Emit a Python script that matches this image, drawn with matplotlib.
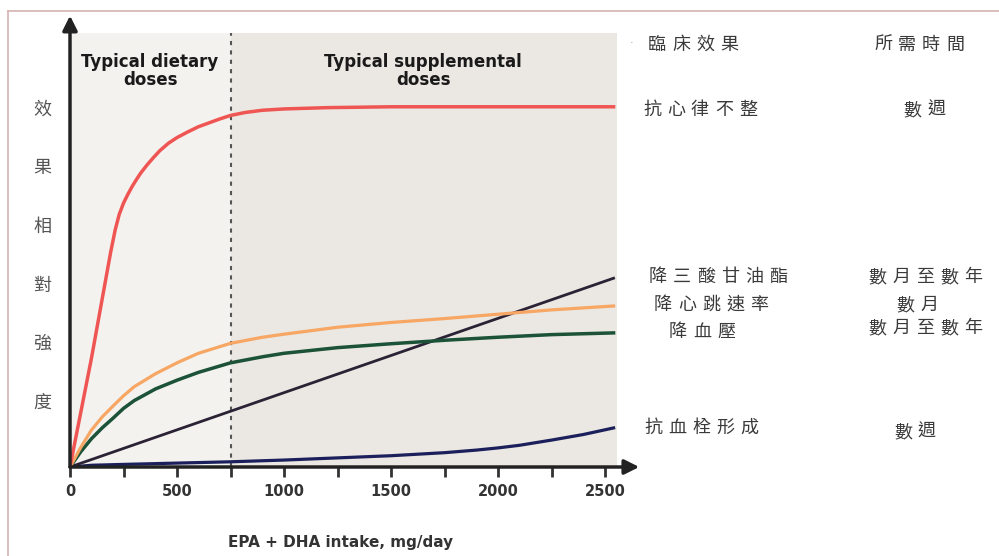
import matplotlib
matplotlib.use('Agg')
import matplotlib.pyplot as plt
from matplotlib.lines import Line2D

plt.rcParams['font.family'] = ['DejaVu Sans', 'Noto Sans CJK TC']

# dose in mg/day, effect in relative units (0-100)
red_x = [0, 100, 190, 211, 230, 250, 270, 290, 310, 330, 360, 390, 420, 460, 500, 550,
         600, 650, 700, 750, 820, 900, 1000, 1200, 1500, 2000, 2540]
red_y = [0, 25.0, 49.5, 54.6, 58.2, 60.8, 62.8, 64.6, 66.2, 67.7, 69.6, 71.3, 72.9, 74.6, 75.9, 77.2,
         78.4, 79.3, 80.2, 81.0, 81.7, 82.2, 82.5, 82.8, 83.0, 83.0, 83.0]

orange_x = [0, 50, 100, 150, 200, 250, 300, 400, 500, 600, 750, 900, 1000, 1250, 1500, 1750, 2000, 2250, 2540]
orange_y = [0, 4.5, 8.5, 11.5, 14.0, 16.4, 18.5, 21.5, 24.0, 26.2, 28.5, 29.9, 30.6, 32.2, 33.3, 34.2, 35.2, 36.2, 37.1]

green_x = [0, 50, 100, 150, 200, 250, 300, 400, 500, 600, 750, 900, 1000, 1250, 1500, 1750, 2000, 2250, 2540]
green_y = [0, 3.5, 6.5, 9.0, 11.2, 13.5, 15.3, 18.0, 20.0, 21.8, 24.0, 25.4, 26.2, 27.5, 28.4, 29.2, 29.9, 30.5, 30.9]

purple_x = [0, 2540]
purple_y = [0, 43.5]

navy_x = [0, 100, 250, 500, 750, 1000, 1250, 1500, 1750, 1900, 2000, 2100, 2250, 2400, 2540]
navy_y = [0, 0.4, 0.6, 0.9, 1.2, 1.6, 2.1, 2.6, 3.3, 3.9, 4.4, 5.0, 6.2, 7.5, 9.0]

ylabel_chars = ['效', '果', '相', '對', '強', '度']
effects = ['臨床效果', '抗心律不整', '降三酸甘油酯', '降心跳速率', '降血壓', '抗血栓形成']
times = ['所需時間', '數週', '數月至數年', '數月', '數月至數年', '數週']

W, H = 999, 556
fig = plt.figure(figsize=(W / 100, H / 100), dpi=100)
fig.patch.set_facecolor('white')

# thin rose frame round the picture
fig.add_artist(Line2D([8 / W, 1], [1 - 11 / H, 1 - 11 / H], color='#d6b4b4', lw=1.2))
fig.add_artist(Line2D([8 / W, 8 / W], [0, 1 - 11 / H], color='#d6b4b4', lw=1.2))

ax = fig.add_axes([70 / W, 1 - 467 / H, (617 - 70) / W, (467 - 33) / H])
ax.set_xlim(0, 2556)
ax.set_ylim(0, 100)
ax.patch.set_alpha(0)
for s in ax.spines.values():
    s.set_visible(False)

ax.axvspan(0, 750, color='#f3f2ef', zorder=0, lw=0)
ax.axvspan(750, 2556, color='#ebe7e2', zorder=0, lw=0)
ax.plot([750, 750], [0, 100], color='#555555', lw=1.5, ls=(0, (2, 2.5)), zorder=1)

ax.plot(navy_x, navy_y, color='#1b205c', lw=2.3, zorder=3, solid_joinstyle='round')
ax.plot(purple_x, purple_y, color='#2b2235', lw=2.0, zorder=3)
ax.plot(green_x, green_y, color='#1c5237', lw=2.5, zorder=3, solid_joinstyle='round')
ax.plot(orange_x, orange_y, color='#f7a663', lw=2.3, zorder=3, solid_joinstyle='round')
ax.plot(red_x, red_y, color='#ef5552', lw=2.5, zorder=3, solid_joinstyle='round')

# axes with arrow heads
ax.annotate('', xy=(2660, 0), xytext=(0, 0), annotation_clip=False,
            arrowprops=dict(arrowstyle='-|>', lw=2.5, color='#222222', mutation_scale=22, shrinkA=0, shrinkB=0))
ax.annotate('', xy=(0, 104), xytext=(0, 0), annotation_clip=False,
            arrowprops=dict(arrowstyle='-|>', lw=2.5, color='#222222', mutation_scale=22, shrinkA=0, shrinkB=0))

ax.set_xticks([0, 500, 1000, 1500, 2000, 2500])
ax.set_xticks([250, 750, 1250, 1750, 2250], minor=True)
ax.tick_params(axis='x', which='both', direction='out', length=7, width=2, color='#333333', pad=5)
ax.tick_params(axis='x', labelsize=10.5, labelcolor='#333333')
for lab in ax.get_xticklabels():
    lab.set_fontweight('bold')
ax.set_yticks([])

ax.text(374, 91.2, 'Typical dietary\ndoses', ha='center', va='center', fontsize=12,
        fontweight='bold', color='#1a1a1a', linespacing=1.0)
ax.text(1650, 91.2, 'Typical supplemental\ndoses', ha='center', va='center', fontsize=12,
        fontweight='bold', color='#1a1a1a', linespacing=1.0)

fig.text(341 / W, 1 - 543 / H, 'EPA + DHA intake, mg/day', ha='center', va='center',
         fontsize=11, fontweight='bold', color='#333333')

cjk = ['Noto Sans CJK TC', 'DejaVu Sans']


def spaced(x0, y, s, pitch=24, size=13, color='#3a3a3a'):
    # one character at a time, the original is letter-spaced
    for i, ch in enumerate(s):
        fig.text((x0 + i * pitch) / W, 1 - y / H, ch, ha='center', va='center',
                 fontsize=size, family=cjk, color=color)


for i, ch in enumerate(ylabel_chars):
    fig.text(42 / W, 1 - (110 + i * 58.5) / H, ch, ha='center', va='center',
             fontsize=13, family=cjk, color='#555555')

fig.text(632 / W, 1 - 43 / H, '·', ha='center', va='center', fontsize=8, color='#999999')

eff_pos = [(657, 45), (652, 110), (658, 277), (663, 305), (678, 332), (653, 428)]
time_pos = [(883, 45), (912, 110), (877, 277), (905, 305), (877, 328), (903, 432)]
for s, (x, y) in zip(effects, eff_pos):
    spaced(x, y, s)
for s, (x, y) in zip(times, time_pos):
    spaced(x, y, s)

fig.savefig('out.png', dpi=100)
